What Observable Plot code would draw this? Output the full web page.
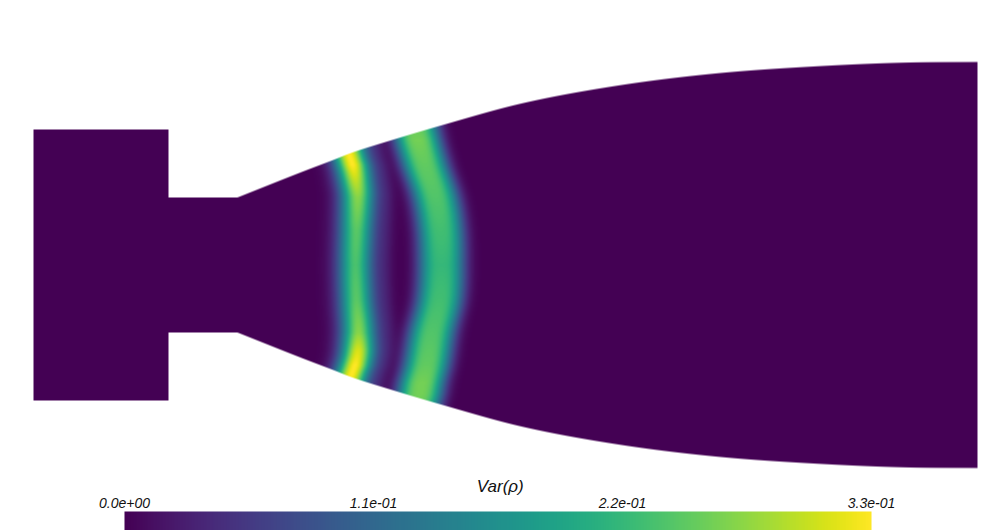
<!DOCTYPE html>
<html><head><meta charset="utf-8">
<script src="https://cdn.jsdelivr.net/npm/d3@7"></script>
<script src="https://cdn.jsdelivr.net/npm/@observablehq/plot@0.6"></script>
<style>
html,body{margin:0;padding:0;background:#fff;}
#chart{width:1000px;height:530px;overflow:hidden;background:#fff;}
#chart svg{display:block;}
</style></head><body><div id="chart"></div>
<script>
// ---- geometry (x along axis, y from centerline; units = 100 px of the reference) ----
const chamberX = [0.33, 1.68];      // chamber start / end
const chamberR = 1.355;             // chamber half-height
const throatX = [1.68, 2.37];       // throat start / end
const throatR = 0.675;              // throat half-height
const wallX = [2.37, 3.00, 3.34, 3.50, 3.90, 4.44, 5.21, 6.18, 7.15, 8.13, 9.10, 9.77];
const wallR = [0.675, 0.925, 1.055, 1.118, 1.245, 1.405, 1.615, 1.795, 1.915, 1.985, 2.025, 2.03];

// ---- first (narrow) variance band: centre x and peak value along y ----
const band1Y   = [1.25, 1.10, 1.00, 0.85, 0.675, 0.35, 0.00, -0.35, -0.675, -0.85, -1.00, -1.10, -1.25];
const band1X   = [3.46, 3.49, 3.52, 3.55, 3.57, 3.56, 3.55, 3.56, 3.58, 3.575, 3.545, 3.51, 3.47];
const band1Val = [0.31, 0.33, 0.33, 0.30, 0.27, 0.245, 0.235, 0.245, 0.27, 0.31, 0.33, 0.33, 0.31];
const band1Width = 0.125;

// ---- second (wide) variance band ----
const band2Y   = [1.45, 1.245, 1.015, 0.675, 0.35, 0.00, -0.35, -0.675, -1.00, -1.175, -1.30, -1.45];
const band2X   = [4.13, 4.175, 4.24, 4.35, 4.40, 4.41, 4.39, 4.315, 4.26, 4.215, 4.19, 4.15];
const band2Val = [0.25, 0.26, 0.25, 0.24, 0.23, 0.22, 0.23, 0.24, 0.25, 0.26, 0.26, 0.25];
const band2Width = 0.23;

// ---- colour bar ----
const colorDomain = [0, 0.33];
const tickValues = [0, 0.11, 0.22, 0.33];
const tickLabels = ["0.0e+00", "1.1e-01", "2.2e-01", "3.3e-01"];
const barTitle = "Var(ρ)";

// helpers
function interp(xs, ys, v) {
  const n = xs.length;
  if (v <= xs[0]) return ys[0];
  if (v >= xs[n - 1]) return ys[n - 1];
  const i = d3.bisectRight(xs, v) - 1;
  const t = (v - xs[i]) / (xs[i + 1] - xs[i]);
  return ys[i] + t * (ys[i + 1] - ys[i]);
}
// monotone cubic (Fritsch–Carlson) through given points, for the smooth wall
function makeMonotone(xs, ys) {
  const n = xs.length, d = [], m = new Array(n);
  for (let i = 0; i < n - 1; i++) d.push((ys[i + 1] - ys[i]) / (xs[i + 1] - xs[i]));
  m[0] = d[0]; m[n - 1] = d[n - 2];
  for (let i = 1; i < n - 1; i++) m[i] = d[i - 1] * d[i] <= 0 ? 0 : (d[i - 1] + d[i]) / 2;
  for (let i = 0; i < n - 1; i++) {
    if (d[i] === 0) { m[i] = m[i + 1] = 0; continue; }
    const a = m[i] / d[i], b = m[i + 1] / d[i], s = a * a + b * b;
    if (s > 9) { const t = 3 / Math.sqrt(s); m[i] = t * a * d[i]; m[i + 1] = t * b * d[i]; }
  }
  return (v) => {
    if (v <= xs[0]) return ys[0];
    if (v >= xs[n - 1]) return ys[n - 1];
    const i = d3.bisectRight(xs, v) - 1;
    const h = xs[i + 1] - xs[i], t = (v - xs[i]) / h, t2 = t * t, t3 = t2 * t;
    return (2 * t3 - 3 * t2 + 1) * ys[i] + (t3 - 2 * t2 + t) * h * m[i]
         + (-2 * t3 + 3 * t2) * ys[i + 1] + (t3 - t2) * h * m[i + 1];
  };
}
const wallFn = makeMonotone(wallX, wallR);
const asc = (a) => a.slice().reverse();
const b1Y = asc(band1Y), b1X = asc(band1X), b1V = asc(band1Val);
const b2Y = asc(band2Y), b2X = asc(band2X), b2V = asc(band2Val);
const b1Xf = makeMonotone(b1Y, b1X), b2Xf = makeMonotone(b2Y, b2X);

function halfHeight(x) {
  if (x < chamberX[0] || x > wallX[wallX.length - 1]) return -1;
  if (x <= chamberX[1]) return chamberR;
  if (x <= throatX[1]) return throatR;
  return wallFn(x);
}
function coverage(x, y) {
  const r = halfHeight(x);
  if (r < 0) return 0;
  const dy = (r - Math.abs(y)) * 100;
  const dx = Math.min(x - chamberX[0], wallX[wallX.length - 1] - x) * 100;
  return Math.max(0, Math.min(1, Math.min(dy, dx) + 0.5));
}
function field(x, y) {
  if (coverage(x, y) <= 0) return 0;
  // band 1: gaussian across, very faint secondary ridge on its right
  const c1 = b1Xf(y), a1 = interp(b1Y, b1V, y);
  const d1 = x - c1;
  let v = a1 * Math.exp(-(d1 * d1) / (2 * band1Width * band1Width));
  const d1b = d1 - 0.29;
  v += 0.018 * Math.exp(-(d1b * d1b) / (2 * 0.06 * 0.06));
  // band 2: flat-topped profile with softer teal edges
  const c2 = b2Xf(y), a2 = interp(b2Y, b2V, y);
  const d2 = Math.abs(x - c2) / band2Width;
  v += a2 * Math.exp(-Math.pow(d2, 3));
  return v;
}

const FONT = "'Liberation Sans', Arial, sans-serif";

const main = Plot.plot({
  width: 1000,
  height: 470,
  margin: 0,
  x: {domain: [0, 10], axis: null},
  y: {domain: [-2.055, 2.645], axis: null},
  color: {type: "linear", scheme: "viridis", domain: colorDomain, clamp: true},
  opacity: {type: "linear", domain: [0, 1], range: [0, 1]},
  marks: [
    Plot.raster({
      fill: field,
      fillOpacity: coverage,
      x1: 0, x2: 10, y1: -2.055, y2: 2.645,
      pixelSize: 1,
      interpolate: null
    })
  ]
});

const bar = Plot.plot({
  width: 1000,
  height: 60,
  marginLeft: 124,
  marginRight: 129,
  marginTop: 41,
  marginBottom: 0,
  x: {domain: colorDomain, axis: null},
  y: {domain: [0, 1], axis: null},
  color: {type: "linear", scheme: "viridis", domain: colorDomain},
  style: {fontFamily: FONT, overflow: "visible"},
  marks: [
    Plot.raster({fill: (x, y) => x, x1: colorDomain[0], x2: colorDomain[1], y1: 0, y2: 1, pixelSize: 1}),
    Plot.text(tickValues, {
      x: (d) => d, y: 1, text: (d, i) => tickLabels[i],
      dy: -4, lineAnchor: "bottom", fontSize: 14, fontStyle: "italic", fill: "#111", fontFamily: FONT
    }),
    Plot.text([barTitle], {
      x: 0.166, y: 1, text: (d) => d,
      dy: -20, lineAnchor: "bottom", fontSize: 17, fontStyle: "italic", fill: "#111", fontFamily: FONT
    })
  ]
});

const root = document.getElementById("chart");
root.appendChild(main);
root.appendChild(bar);
</script></body></html>
